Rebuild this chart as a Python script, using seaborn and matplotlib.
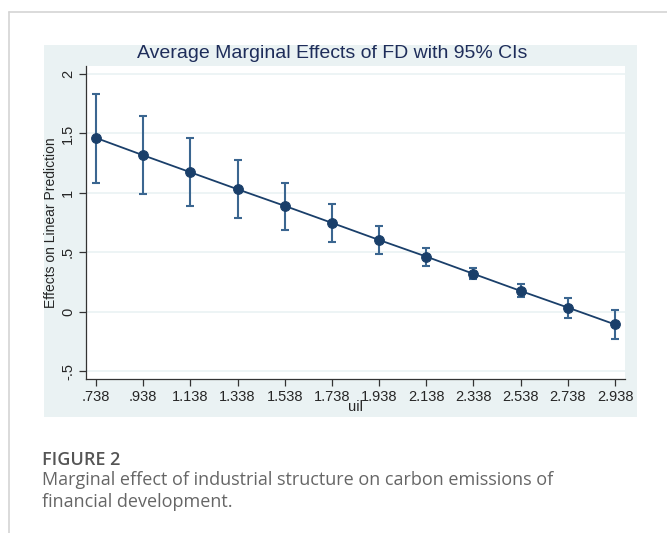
import matplotlib.pyplot as plt
import matplotlib.patches as mpatches
import matplotlib.lines as mlines
import seaborn as sns
import pandas as pd

uil = [0.738, 0.938, 1.138, 1.338, 1.538, 1.738, 1.938, 2.138, 2.338, 2.538, 2.738, 2.938]
effect = [1.462, 1.316, 1.173, 1.030, 0.890, 0.747, 0.603, 0.463, 0.318, 0.174, 0.034, -0.108]
ci_low = [1.086, 0.991, 0.890, 0.791, 0.690, 0.589, 0.488, 0.385, 0.271, 0.120, -0.051, -0.233]
ci_high = [1.833, 1.644, 1.459, 1.274, 1.083, 0.903, 0.718, 0.536, 0.370, 0.230, 0.118, 0.014]
xtick_labels = [".738", ".938", "1.138", "1.338", "1.538", "1.738", "1.938",
                "2.138", "2.338", "2.538", "2.738", "2.938"]
yticks = [-0.5, 0, 0.5, 1, 1.5, 2]
ytick_labels = ["-.5", "0", ".5", "1", "1.5", "2"]

df = pd.DataFrame({"uil": uil, "effect": effect, "lo": ci_low, "hi": ci_high})

sns.set_style("white")
plt.rcParams['font.family'] = ['Liberation Sans', 'DejaVu Sans']

fig = plt.figure(figsize=(6.67, 5.33), dpi=100)
W, H = 667, 533

# page frame lines (journal layout)
fig.add_artist(mlines.Line2D([9 / W, 1], [1 - 12 / H, 1 - 12 / H], color="#d4d4d4", lw=1.2))
fig.add_artist(mlines.Line2D([9 / W, 9 / W], [0, 1 - 12 / H], color="#d4d4d4", lw=1.2))

# Stata graph region
fig.add_artist(mpatches.Rectangle((44 / W, 1 - 417 / H), 593 / W, 372 / H,
                                  facecolor="#eaf2f3", edgecolor="none", zorder=0))

ax = fig.add_axes([86 / W, 1 - 379 / H, 539 / W, 313 / H])
ax.set_facecolor("white")

navy = "#1a3f6a"
ax.errorbar(df["uil"], df["effect"],
            yerr=[df["effect"] - df["lo"], df["hi"] - df["effect"]],
            fmt="none", ecolor="#3b6690", elinewidth=1.5, capsize=3.2, capthick=1.5, zorder=2)
sns.lineplot(data=df, x="uil", y="effect", ax=ax, color=navy, linewidth=1.3,
             marker="o", markersize=7, markeredgecolor=navy, markerfacecolor=navy, zorder=3)

ax.set_xlim(0.696, 2.980)
ax.set_ylim(-0.567, 2.067)
ax.set_xticks(uil)
ax.set_xticklabels(xtick_labels, fontsize=10.5)
ax.set_yticks(yticks)
ax.set_yticklabels(ytick_labels, fontsize=10.5, rotation=90, va="center")

ax.yaxis.grid(True, color="#eaf2f3", linewidth=1.2)
ax.xaxis.grid(False)
ax.set_axisbelow(True)

for s in ["top", "right"]:
    ax.spines[s].set_visible(False)
for s in ["left", "bottom"]:
    ax.spines[s].set_color("#333333")
    ax.spines[s].set_linewidth(0.9)
ax.tick_params(axis="both", direction="out", length=5, width=0.9, color="#333333",
               left=True, bottom=True, pad=3)

ax.set_xlabel("uil", fontsize=10.5, labelpad=-3)
ax.set_ylabel("Effects on Linear Prediction", fontsize=10, labelpad=2)

fig.text(332 / W, 1 - 53 / H, "Average Marginal Effects of FD with 95% CIs",
         ha="center", va="center", fontsize=14, color="#1e2d5a")

# caption
fig.text(42 / W, 1 - 460 / H, "FIGURE 2", fontsize=13, color="#555555",
         family=["Open Sans", "DejaVu Sans"], fontweight="semibold", va="center")
fig.text(42 / W, 1 - 471 / H,
         "Marginal effect of industrial structure on carbon emissions of\nfinancial development.",
         fontsize=13, color="#666666", family=["Open Sans", "DejaVu Sans"],
         va="top", linespacing=1.3)

fig.savefig("out.png", dpi=100)
